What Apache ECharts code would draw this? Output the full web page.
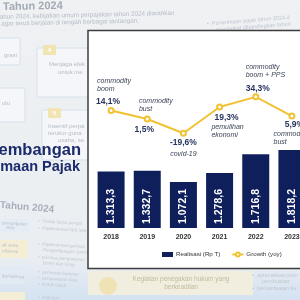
<!DOCTYPE html>
<html><head><meta charset="utf-8">
<script src="https://cdn.jsdelivr.net/npm/echarts@6/dist/echarts.min.js"></script>
<style>html,body{margin:0;padding:0;overflow:hidden;background:#eceff3}#c{width:300px;height:300px}</style>
</head><body><div id="c"></div>
<script>
// ---- data ----
const years = ['2018', '2019', '2020', '2021', '2022', '2023'];
const realisasi = [1313.3, 1332.7, 1072.1, 1278.6, 1716.8, 1818.2];
const growth = [14.1, 1.5, -19.6, 19.3, 34.3, 5.9];
const notes = ['commodity\nboom', 'commodity\nbust', 'covid-19', 'pemulihan\nekonomi', 'commodity\nboom + PPS', 'commodity\nbust'];
const seriesNames = ['Realisasi (Rp T)', 'Growth (yoy)'];
const titleLines = ['Perkembangan', 'Penerimaan Pajak'];

// ---- label placement (style only) ----
const valueOffsets = [[-3, -8.5], [-3, 11], [0, 9], [7, 10.3], [2, -8], [2.5, 9]];
const noteOffsets = [[-14, -34], [-8.3, -22.5], [0, 16.5], [-8.2, 15.5], [-10.1, -34.4], [-18.4, 13.75]];
const noteAlign = ['left', 'left', 'center', 'left', 'left', 'left'];

const FF = '"Liberation Sans", Arial, Helvetica, sans-serif';
function fmtID(v) { const p = v.toFixed(1).split('.'); return p[0].replace(/\B(?=(\d{3})+(?!\d))/g, '.') + ',' + p[1]; }
function fmtPct(v) { return v.toFixed(1).replace('.', ',') + '%'; }

// ---- background document (graphic) ----
function T(x, y, text, size, fill, o) {
  o = o || {};
  return { type: 'text', x: x, y: y, rotation: o.rot || 0, silent: true, z: -5,
    style: { text: text, fontSize: size, fontWeight: o.bold ? 'bold' : 'normal', fontStyle: o.italic ? 'italic' : 'normal',
      fontFamily: FF, fill: fill, textAlign: o.align || 'left', textVerticalAlign: 'middle' } };
}
function R(x, y, w, h, fill, stroke, z) {
  return { type: 'rect', silent: true, z: z == null ? -6 : z, shape: { x: x, y: y, width: w, height: h, r: 1 },
    style: { fill: fill, stroke: stroke || 'none', lineWidth: 1 } };
}
const g1 = '#b6bdc7', g2 = '#c0c7d0';
const graphics = [
  { type: 'rect', silent: true, z: -8, shape: { x: 0, y: 0, width: 300, height: 300 },
    style: { fill: { type: 'linear', x: 0, y: 0, x2: 0, y2: 1, colorStops: [
      { offset: 0, color: '#eff1f3' }, { offset: 0.86, color: '#eaeef2' }, { offset: 1, color: '#d4e2f2' }] } } },
  T(3, 7, 'Tahun 2024', 11, '#a2aab5', { bold: true, rot: 0.02 }),
  T(-2, 17, 'tahun 2024, kebijakan umum perpajakan tahun 2024 diarahkan', 6.3, g1, { rot: 0.022 }),
  T(-2, 24, 'i agar terus berjalan di tengah berbagai tantangan.', 6.3, g1, { rot: 0.022 }),
  T(207, 24, '•  Penerimaan pajak tahun 2024 d', 5.5, g2, { rot: 0.08 }),
  T(216, 30, 'meningkat dibandingkan tahun', 5.5, g2, { rot: 0.08 }),
  R(-5, 38, 25, 27, '#f4f6f9', '#d5e0ec'), T(4, 55, 'grasi', 6, g1),
  R(37, 48, 60, 49, '#f4f6f9', '#d5e0ec'), R(43, 45, 13, 10, '#f2e4b0', null, -5),
  T(49.5, 50, '4', 6, '#ffffff', { bold: true, align: 'center' }),
  T(49, 64, 'Menjaga efek', 6, g1), T(58, 72, 'untuk me', 6, g1),
  R(-5, 88, 30, 34, '#f4f6f9', '#d5e0ec'), T(2, 103, 'ulu', 6, g1),
  R(42, 110, 60, 50, '#f4f6f9', '#d5e0ec'), R(48, 108, 13, 10, '#f2e4b0', null, -5),
  T(54.5, 113, '5', 6, '#ffffff', { bold: true, align: 'center' }),
  T(48, 126, 'Insentif perpa', 6, g1), T(48, 133, 'terukur guna', 6, g1), T(58, 140, 'usaha, se', 6, g1),
  T(81, 150.5, titleLines[0], 16.5, '#1b2b6b', { bold: true, align: 'right' }),
  T(80, 167, titleLines[1], 14.5, '#1b2b6b', { bold: true, align: 'right' }),
  T(0, 205, 'Tahun 2024', 10, '#a8b0bb', { bold: true, rot: -0.09 }),
  R(-5, 219, 35, 13, '#e4ecf4'), T(2, 223, 'pemungutan', 4.5, g1, { rot: -0.05 }), T(6, 228, 'PPh', 4.5, g1, { rot: -0.05 }),
  R(-5, 240, 33, 18, '#f4eed6'), T(2, 245, 'ak serta', 4.5, g1, { rot: -0.05 }), T(2, 251, 'efisiensi', 4.5, g1, { rot: -0.05 }),
  R(-5, 266, 30, 18, '#e2eaf3'), T(2, 276, 'lpsi lainnya', 4.5, g1, { rot: -0.05 }),
  R(-5, 292, 30, 10, '#f4eed6'),
  T(38, 221, '•  Tindak lanjut pengel', 4.5, g2, { rot: -0.06 }), T(38, 228, '•  Implementasi NIK seb', 4.5, g2, { rot: -0.06 }),
  T(38, 244, '•  Implementasi perluas', 4.5, g2, { rot: -0.06 }), T(43, 250, 'Pengembangan Jaminan', 4.5, g2, { rot: -0.06 }),
  T(38, 257, '•  prioritas pengawasan', 4.5, g2, { rot: -0.06 }), T(43, 263, 'bisnis dan Grup', 4.5, g2, { rot: -0.06 }),
  T(38, 272, '•  perluasan layanan', 4.5, g2, { rot: -0.06 }), T(38, 278, '•  pengawasan data', 4.5, g2, { rot: -0.06 }),
  T(38, 284, '•  tindak lanjut', 4.5, g2, { rot: -0.06 }), T(38, 297, '•  kegiatan', 4.5, g2, { rot: -0.06 }),
  R(88, 271, 165, 24, '#f2eedf'),
  { type: 'circle', silent: true, z: -5, shape: { cx: 108, cy: 286, r: 9 }, style: { fill: '#efe3b6' } },
  T(181, 279, 'Kegiatan penegakan hukum yang', 6.5, '#c2bb9c', { align: 'center' }),
  T(181, 287, 'berkeadilan', 6.5, '#c2bb9c', { align: 'center' }),
  T(252, 275, '•  optimalisasi pem', 5.5, g2), T(262, 281, 'pembuatan', 5.5, g2), T(252, 288, '•  pemanfaatan ke', 5.5, g2),
  // white chart panel
  { type: 'rect', silent: true, z: -1, shape: { x: 88, y: 30.5, width: 232, height: 238 },
    style: { fill: '#ffffff', stroke: '#3d3d3d', lineWidth: 1.5 } }
];

const chart = echarts.init(document.getElementById('c'), null, { renderer: 'canvas' });
chart.setOption({
  animation: false,
  textStyle: { fontFamily: FF },
  graphic: { elements: graphics },
  grid: { left: 93, right: -10, top: 39, bottom: 72, outerBoundsMode: 'none', containLabel: false },
  legend: {
    data: [{ name: seriesNames[0], icon: 'rect' }, { name: seriesNames[1] }],
    left: 162, top: 251.5, itemWidth: 11, itemHeight: 5, itemGap: 11, padding: 0,
    textStyle: { fontSize: 6.2, color: '#333', fontFamily: FF, padding: [0, 0, 0, -2] }
  },
  xAxis: {
    type: 'category', data: years,
    axisLine: { show: false }, axisTick: { show: false },
    axisLabel: { fontSize: 7, fontWeight: 'bold', color: '#333', margin: 6 }
  },
  yAxis: [
    { type: 'value', min: 0, max: 4400, show: false, splitLine: { show: false } },
    { type: 'value', min: -160, max: 120, show: false, splitLine: { show: false } }
  ],
  series: [
    {
      name: seriesNames[0], type: 'bar', data: realisasi, barWidth: 27,
      itemStyle: { color: '#0f1f5c' },
      label: { show: true, position: 'insideBottom', rotate: 90, align: 'left', verticalAlign: 'middle', distance: 4,
        color: '#ffffff', fontWeight: 'bold', fontSize: 10.5, formatter: p => fmtID(p.value) }
    },
    {
      name: seriesNames[1], type: 'line', yAxisIndex: 1, data: growth, z: 3,
      symbol: 'emptyCircle', symbolSize: 5,
      lineStyle: { color: '#f1c232', width: 2 },
      itemStyle: { color: '#f1c232', borderWidth: 1.2 }
    },
    {
      name: '_values', type: 'line', yAxisIndex: 1, z: 4, silent: true,
      data: growth.map((v, i) => ({ value: v, label: { position: [valueOffsets[i][0] + 1, valueOffsets[i][1] + 1] } })),
      symbol: 'circle', symbolSize: 2, itemStyle: { color: 'rgba(0,0,0,0)' }, lineStyle: { opacity: 0 },
      emphasis: { disabled: true },
      label: { show: true, align: 'center', verticalAlign: 'middle', color: '#27335e', fontWeight: 'bold', fontSize: 8.5,
        formatter: p => fmtPct(p.value) }
    },
    {
      name: '_notes', type: 'line', yAxisIndex: 1, z: 4, silent: true,
      data: growth.map((v, i) => ({ value: v, label: { align: noteAlign[i], position: [noteOffsets[i][0] + 1, noteOffsets[i][1] + 1] } })),
      symbol: 'circle', symbolSize: 2, itemStyle: { color: 'rgba(0,0,0,0)' }, lineStyle: { opacity: 0 },
      emphasis: { disabled: true },
      label: { show: true, verticalAlign: 'top', color: '#3d4458', fontStyle: 'italic', fontSize: 7, lineHeight: 8.5,
        formatter: p => notes[p.dataIndex] }
    }
  ]
});
</script></body></html>
